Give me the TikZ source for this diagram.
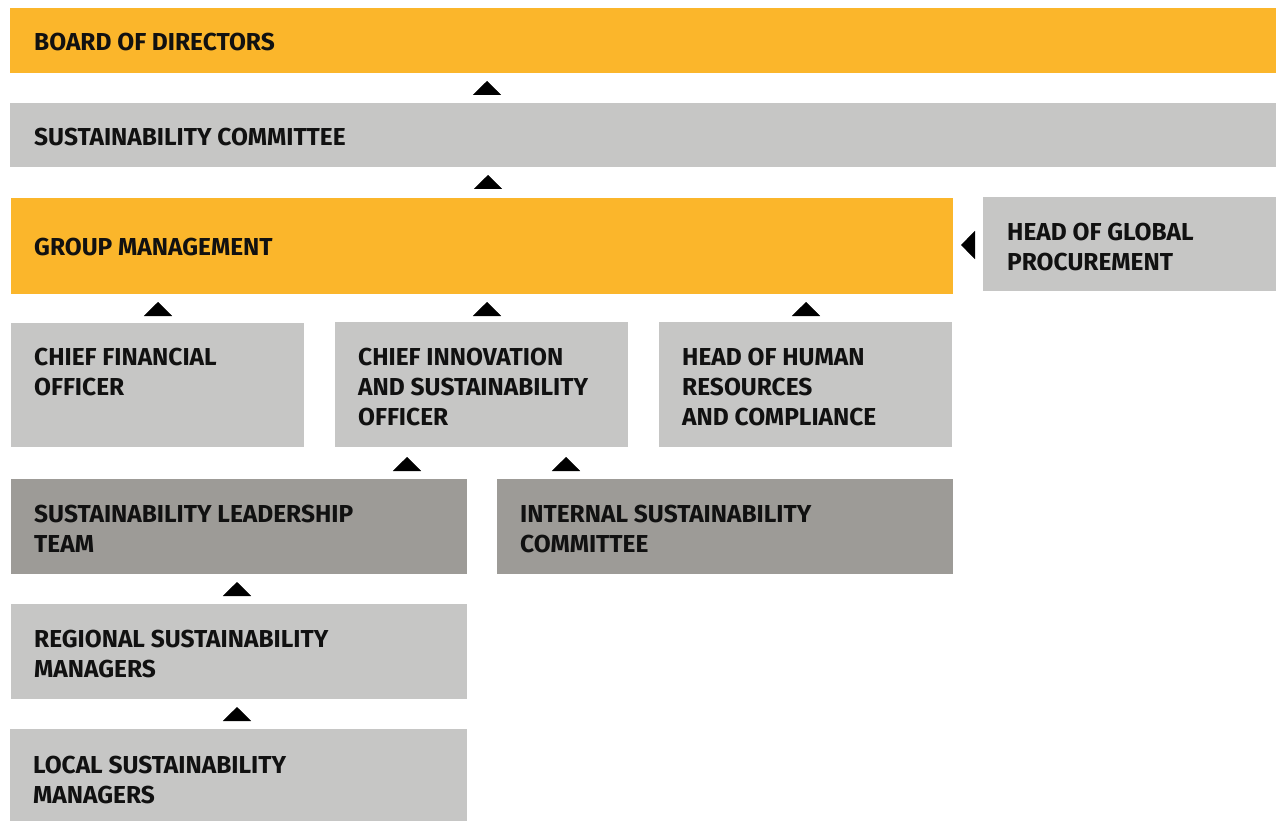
\documentclass[tikz,border=0pt]{standalone}
\usepackage{fontspec}
\setmainfont{Fira Sans}
\usetikzlibrary{arrows.meta,calc}
\definecolor{gold}{HTML}{FBB62B}
\definecolor{lgray}{HTML}{C6C6C5}
\definecolor{dgray}{HTML}{9D9B97}
\definecolor{ink}{HTML}{111111}
\begin{document}
\begin{tikzpicture}[x=1pt,y=-1pt,
  boxnode/.style={rectangle,anchor=north west,inner sep=0pt,outer sep=0pt,draw=none},
  goldbox/.style={boxnode,fill=gold},
  lbox/.style={boxnode,fill=lgray},
  dbox/.style={boxnode,fill=dgray},
  txt/.style={anchor=north west,inner sep=0pt,align=left,text=ink,
    font=\fontsize{24.5}{30}\selectfont\bfseries},
  tri/.style={line width=0.4pt,draw=black,line cap=butt,
    -{Triangle[width=28pt,length=14pt]},shorten >=8pt,shorten <=10pt}
]
\useasboundingbox (0,0) rectangle (1276,821);
% boxes
\node[goldbox,minimum width=1266pt,minimum height=65pt] (bod) at (10,8) {};
\node[lbox,minimum width=1266pt,minimum height=64pt] (sc) at (10,103) {};
\node[goldbox,minimum width=942pt,minimum height=96pt] (gm) at (11,198) {};
\node[lbox,minimum width=293pt,minimum height=94pt] (hgp) at (983,197) {};
\node[lbox,minimum width=293pt,minimum height=124pt] (cfo) at (11,323) {};
\node[lbox,minimum width=293pt,minimum height=125pt] (ciso) at (335,322) {};
\node[lbox,minimum width=293pt,minimum height=125pt] (hhr) at (659,322) {};
\node[dbox,minimum width=456pt,minimum height=95pt] (slt) at (11,479) {};
\node[dbox,minimum width=456pt,minimum height=95pt] (isc) at (497,479) {};
\node[lbox,minimum width=456pt,minimum height=95pt] (rsm) at (11,604) {};
\node[lbox,minimum width=457pt,minimum height=92pt] (lsm) at (10,729) {};
% texts
\node[txt] (bodt) at ($(bod.north west)+(24,25)$) {BOARD OF DIRECTORS};
\node[txt] (sct) at ($(sc.north west)+(24,25)$) {SUSTAINABILITY COMMITTEE};
\node[txt] (gmt) at ($(gm.north west)+(23,40)$) {GROUP MANAGEMENT};
\node[txt] (hgpt) at ($(hgp.north west)+(24,26)$) {HEAD OF GLOBAL\\PROCUREMENT};
\node[txt] (cfot) at ($(cfo.north west)+(23,25)$) {CHIEF FINANCIAL\\OFFICER};
\node[txt] (cisot) at ($(ciso.north west)+(23,26)$) {CHIEF INNOVATION\\AND SUSTAINABILITY\\OFFICER};
\node[txt] (hhrt) at ($(hhr.north west)+(23,26)$) {HEAD OF HUMAN\\RESOURCES\\AND COMPLIANCE};
\node[txt] (sltt) at ($(slt.north west)+(23,26)$) {SUSTAINABILITY LEADERSHIP\\TEAM};
\node[txt] (isct) at ($(isc.north west)+(23,26)$) {INTERNAL SUSTAINABILITY\\COMMITTEE};
\node[txt] (rsmt) at ($(rsm.north west)+(23,26)$) {REGIONAL SUSTAINABILITY\\MANAGERS};
\node[txt] (lsmt) at ($(lsm.north west)+(23,27)$) {LOCAL SUSTAINABILITY\\MANAGERS};
% connectors (arrowheads)
\draw[tri] ([xshift=477pt]sc.north west) -- ([xshift=477pt]sc.north west |- bod.south);
\draw[tri] ([xshift=477pt]gm.north west) -- ([xshift=477pt]gm.north west |- sc.south);
\draw[tri] ([xshift=147pt]cfo.north west) -- ([xshift=147pt]cfo.north west |- gm.south);
\draw[tri] ([xshift=152pt]ciso.north west) -- ([xshift=152pt]ciso.north west |- gm.south);
\draw[tri] ([xshift=147pt]hhr.north west) -- ([xshift=147pt]hhr.north west |- gm.south);
\draw[tri] ([yshift=-48pt]hgp.north west) -- ([yshift=-48pt]hgp.north west -| gm.east);
\draw[tri,shorten >=10pt,shorten <=12pt] ([xshift=396pt]slt.north west) -- ([xshift=396pt]slt.north west |- ciso.south);
\draw[tri,shorten >=10pt,shorten <=12pt] ([xshift=69pt]isc.north west) -- ([xshift=69pt]isc.north west |- ciso.south);
\draw[tri] ([xshift=226pt]rsm.north west) -- ([xshift=226pt]rsm.north west |- slt.south);
\draw[tri] ([xshift=227pt]lsm.north west) -- ([xshift=227pt]lsm.north west |- rsm.south);
\end{tikzpicture}
\end{document}
